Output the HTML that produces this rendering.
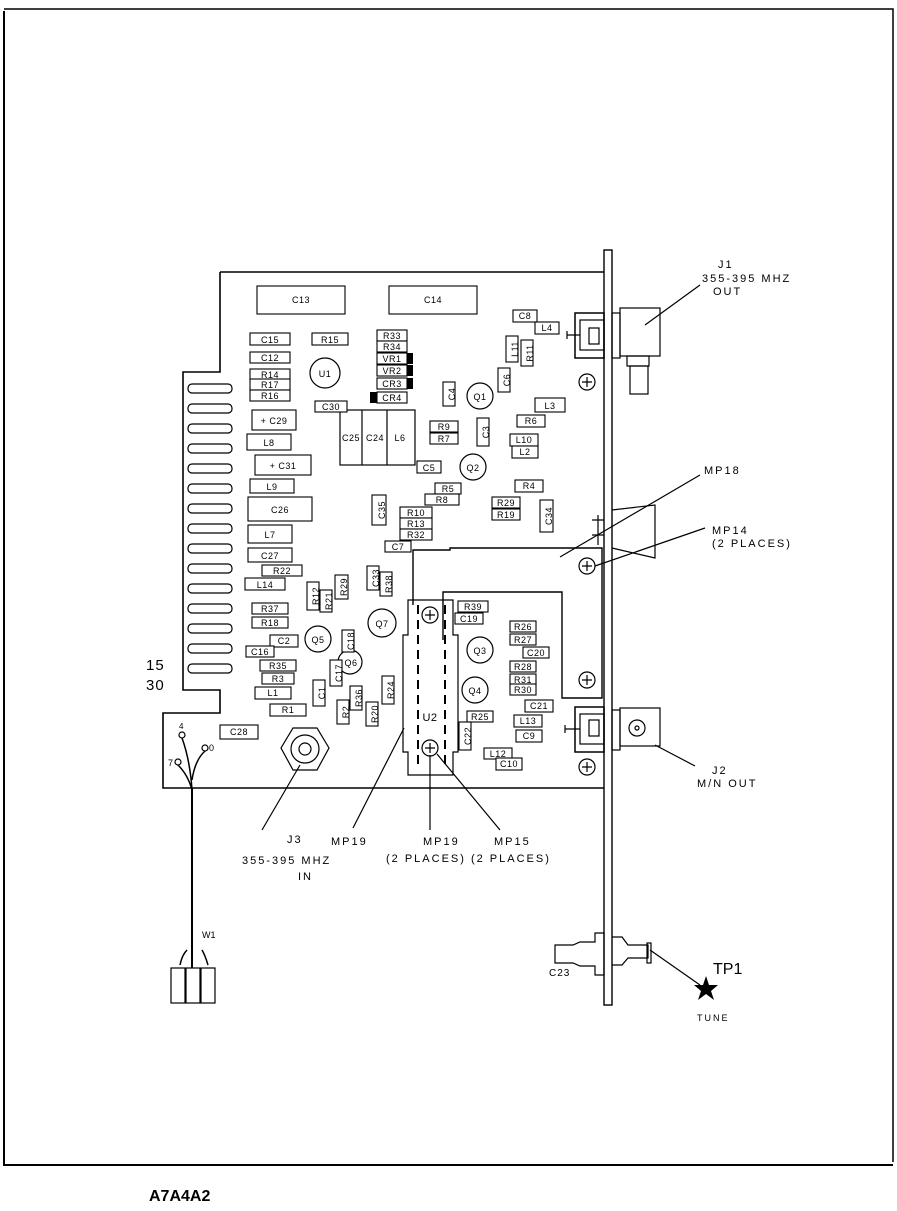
<!DOCTYPE html>
<html><head><meta charset="utf-8"><style>
html,body{margin:0;padding:0;background:#fff}
svg{display:block}
text{font-family:"Liberation Sans",sans-serif;fill:#000}
.l{font-size:9px;letter-spacing:0.5px}
.b{font-size:11px;letter-spacing:2px}
</style></head><body>
<svg width="897" height="1211" viewBox="0 0 897 1211" xmlns="http://www.w3.org/2000/svg">
<g fill="none" stroke="#000" stroke-width="1.2">
<path d="M4 9 H893 V1162" stroke-width="1.5"/>
<path d="M4 11 V1165 H893" stroke-width="2"/>
<path d="M220 272 H605 M220 272 V372 H183 V690 H220 V713 H163 V788 H605" stroke-width="1.6"/>
<g stroke-width="1.2">
<rect x="188" y="384" width="44" height="9" rx="4"/><rect x="188" y="404" width="44" height="9" rx="4"/>
<rect x="188" y="424" width="44" height="9" rx="4"/><rect x="188" y="444" width="44" height="9" rx="4"/>
<rect x="188" y="464" width="44" height="9" rx="4"/><rect x="188" y="484" width="44" height="9" rx="4"/>
<rect x="188" y="504" width="44" height="9" rx="4"/><rect x="188" y="524" width="44" height="9" rx="4"/>
<rect x="188" y="544" width="44" height="9" rx="4"/><rect x="188" y="564" width="44" height="9" rx="4"/>
<rect x="188" y="584" width="44" height="9" rx="4"/><rect x="188" y="604" width="44" height="9" rx="4"/>
<rect x="188" y="624" width="44" height="9" rx="4"/><rect x="188" y="644" width="44" height="9" rx="4"/>
<rect x="188" y="664" width="44" height="9" rx="4"/>
</g>
<rect x="604" y="250" width="8" height="755" fill="#fff" stroke-width="1.4"/>
<path d="M413 605 V550 H450 V548 H602 V698 H562 V592 H443 V640" stroke-width="1.4"/>
<path d="M408 600 H453 V635 H458 V752 H453 V775 H408 V752 H403 V635 H408 Z"/>
<path d="M418 605 V765 M445 605 V765" stroke-dasharray="9,6" stroke-width="2"/>
<g stroke-width="1.2">
<circle cx="430" cy="615" r="8"/><path d="M425 615h10M430 610v10"/>
<circle cx="430" cy="748" r="8"/><path d="M425 748h10M430 743v10"/>
<circle cx="587" cy="382" r="8"/><path d="M582 382h10M587 377v10"/>
<circle cx="587" cy="566" r="8"/><path d="M582 566h10M587 561v10"/>
<circle cx="587" cy="680" r="8"/><path d="M582 680h10M587 675v10"/>
<circle cx="587" cy="767" r="8"/><path d="M582 767h10M587 762v10"/>
</g>
<rect x="575" y="313" width="29" height="45" stroke-width="1.5"/>
<rect x="580" y="320" width="24" height="30"/><rect x="589" y="328" width="10" height="16"/>
<path d="M567 335h13M567 331v8"/>
<rect x="612" y="313" width="8" height="45"/>
<rect x="620" y="308" width="40" height="48"/>
<rect x="627" y="356" width="22" height="10"/><rect x="630" y="366" width="18" height="28"/>
<rect x="575" y="707" width="29" height="45" stroke-width="1.5"/>
<rect x="580" y="714" width="24" height="30"/><rect x="589" y="720" width="10" height="16"/>
<path d="M565 729h15M565 725v8"/>
<rect x="612" y="710" width="8" height="40"/>
<rect x="620" y="708" width="40" height="38"/><circle cx="637" cy="728" r="8"/><circle cx="637" cy="728" r="2"/>
<path d="M612 510 L655 505 V558 L612 548 M592 520 H604 M592 535 H604 M598 515 V545"/>
<path d="M555 945 H573 L580 942 H595 V933 H604 V975 H595 V966 H580 L573 963 H555 Z"/>
<path d="M612 937 H622 L628 945 H648 V958 H628 L622 965 H612"/>
<rect x="647" y="943" width="4" height="20"/>
<polygon points="293,728 317,728 329,748 317,770 293,770 281,748"/>
<circle cx="305" cy="749" r="14"/><circle cx="305" cy="749" r="6"/>
<circle cx="182" cy="735" r="3"/><circle cx="205" cy="748" r="3"/><circle cx="178" cy="762" r="3"/>
<path d="M182 738 Q190 760 192 790 M205 751 Q195 760 192 780 M178 765 Q188 775 192 790" stroke-width="1.5"/>
<path d="M192 788 V968" stroke-width="2"/>
<path d="M180 965 Q182 955 187 950 M208 965 Q205 955 202 950" stroke-width="1.5"/>
<rect x="171" y="968" width="14" height="35"/><rect x="186" y="968" width="14" height="35"/><rect x="201" y="968" width="14" height="35"/>
<path d="M700 285 L645 325 M700 475 L560 557 M705 528 L595 566 M695 766 L655 745 M262 830 L300 765 M353 828 L404 728 M430 830 V755 M500 830 L437 754 M700 985 L650 950"/>
<circle cx="325" cy="373" r="15"/><circle cx="480" cy="396" r="13"/><circle cx="473" cy="467" r="13"/>
<circle cx="382" cy="623" r="14"/><circle cx="318" cy="639" r="13"/><circle cx="350" cy="662" r="12"/>
<circle cx="480" cy="650" r="13"/><circle cx="475" cy="690" r="13"/>
<rect x="340" y="410" width="75" height="55"/><path d="M362 410v55M387 410v55"/>
</g>
<rect x="407" y="353" width="6" height="11"/><rect x="407" y="365" width="6" height="11"/>
<rect x="407" y="378" width="6" height="11"/><rect x="370" y="392" width="7" height="11"/>
<g fill="#fff" stroke="#000" stroke-width="1.1">
<rect x="257" y="286" width="88" height="28"/><rect x="389" y="286" width="88" height="28"/>
<rect x="250" y="333" width="40" height="12"/><rect x="312" y="333" width="36" height="12"/>
<rect x="377" y="330" width="30" height="11"/><rect x="377" y="341" width="30" height="11"/>
<rect x="377" y="353" width="30" height="11"/><rect x="377" y="365" width="30" height="11"/>
<rect x="377" y="378" width="30" height="11"/><rect x="377" y="392" width="30" height="11"/>
<rect x="250" y="352" width="40" height="11"/><rect x="250" y="369" width="40" height="11"/>
<rect x="250" y="379" width="40" height="11"/><rect x="250" y="390" width="40" height="11"/>
<rect x="315" y="401" width="32" height="11"/><rect x="252" y="410" width="44" height="20"/>
<rect x="247" y="434" width="44" height="16"/><rect x="255" y="455" width="56" height="20"/>
<rect x="250" y="479" width="44" height="14"/><rect x="248" y="497" width="64" height="24"/>
<rect x="248" y="525" width="44" height="18"/><rect x="248" y="548" width="44" height="14"/>
<rect x="262" y="565" width="40" height="11"/><rect x="245" y="578" width="40" height="12"/>
<rect x="417" y="461" width="24" height="12"/><rect x="372" y="495" width="14" height="30"/>
<rect x="435" y="483" width="26" height="11"/><rect x="425" y="494" width="34" height="11"/>
<rect x="400" y="507" width="32" height="11"/><rect x="400" y="518" width="32" height="11"/>
<rect x="400" y="529" width="32" height="11"/><rect x="385" y="541" width="26" height="11"/>
<rect x="430" y="421" width="28" height="11"/><rect x="430" y="433" width="28" height="11"/>
<rect x="443" y="382" width="12" height="24"/><rect x="477" y="418" width="12" height="28"/>
<rect x="498" y="368" width="12" height="24"/><rect x="506" y="336" width="12" height="26"/>
<rect x="521" y="340" width="12" height="26"/><rect x="513" y="310" width="24" height="12"/>
<rect x="535" y="322" width="24" height="12"/><rect x="535" y="398" width="30" height="14"/>
<rect x="517" y="415" width="28" height="12"/><rect x="510" y="434" width="28" height="12"/>
<rect x="512" y="446" width="26" height="12"/><rect x="515" y="480" width="28" height="12"/>
<rect x="492" y="497" width="28" height="11"/><rect x="492" y="509" width="28" height="11"/>
<rect x="540" y="500" width="13" height="32"/>
<rect x="458" y="601" width="30" height="11"/><rect x="455" y="613" width="28" height="11"/>
<rect x="510" y="621" width="26" height="11"/><rect x="510" y="634" width="26" height="11"/>
<rect x="523" y="647" width="26" height="11"/><rect x="510" y="661" width="26" height="11"/>
<rect x="510" y="674" width="26" height="11"/><rect x="510" y="684" width="26" height="11"/>
<rect x="467" y="711" width="26" height="11"/><rect x="525" y="700" width="28" height="12"/>
<rect x="514" y="715" width="28" height="12"/><rect x="516" y="730" width="26" height="12"/>
<rect x="459" y="722" width="12" height="28"/><rect x="484" y="748" width="28" height="11"/>
<rect x="496" y="758" width="26" height="12"/>
<rect x="307" y="582" width="12" height="28"/><rect x="320" y="590" width="12" height="22"/>
<rect x="335" y="575" width="13" height="24"/><rect x="367" y="566" width="12" height="24"/>
<rect x="380" y="572" width="12" height="24"/><rect x="342" y="630" width="12" height="22"/>
<rect x="330" y="660" width="12" height="26"/>
<rect x="252" y="603" width="36" height="11"/><rect x="252" y="617" width="36" height="11"/>
<rect x="270" y="635" width="28" height="12"/><rect x="246" y="646" width="28" height="11"/>
<rect x="260" y="660" width="36" height="11"/><rect x="262" y="673" width="32" height="11"/>
<rect x="255" y="687" width="36" height="12"/><rect x="270" y="704" width="36" height="12"/>
<rect x="313" y="680" width="12" height="26"/><rect x="350" y="686" width="12" height="24"/>
<rect x="337" y="700" width="12" height="24"/><rect x="382" y="676" width="12" height="28"/>
<rect x="366" y="702" width="12" height="24"/><rect x="220" y="725" width="38" height="14"/>
</g>
<g class="l" text-anchor="middle">
<text x="301" y="303">C13</text><text x="433" y="303">C14</text>
<text x="270" y="343">C15</text><text x="330" y="343">R15</text>
<text x="392" y="339">R33</text><text x="392" y="350">R34</text><text x="392" y="362">VR1</text>
<text x="392" y="374">VR2</text><text x="392" y="387">CR3</text><text x="392" y="401">CR4</text>
<text x="270" y="361">C12</text><text x="270" y="378">R14</text><text x="270" y="388">R17</text><text x="270" y="399">R16</text>
<text x="325" y="377">U1</text><text x="331" y="410">C30</text><text x="274" y="424">+ C29</text>
<text x="269" y="446">L8</text><text x="283" y="469">+ C31</text><text x="272" y="490">L9</text>
<text x="280" y="513">C26</text><text x="270" y="538">L7</text><text x="270" y="559">C27</text>
<text x="282" y="574">R22</text><text x="265" y="588">L14</text>
<text x="351" y="441">C25</text><text x="375" y="441">C24</text><text x="400" y="441">L6</text>
<text x="429" y="471">C5</text><text x="448" y="492">R5</text><text x="442" y="503">R8</text>
<text x="416" y="516">R10</text><text x="416" y="527">R13</text><text x="416" y="538">R32</text><text x="398" y="550">C7</text>
<text x="444" y="430">R9</text><text x="444" y="442">R7</text><text x="480" y="400">Q1</text><text x="473" y="471">Q2</text>
<text x="525" y="319">C8</text><text x="547" y="331">L4</text><text x="550" y="409">L3</text>
<text x="531" y="424">R6</text><text x="524" y="443">L10</text><text x="525" y="455">L2</text>
<text x="529" y="489">R4</text><text x="506" y="506">R29</text><text x="506" y="518">R19</text>
<text x="473" y="610">R39</text><text x="469" y="622">C19</text>
<text x="523" y="630">R26</text><text x="523" y="643">R27</text><text x="536" y="656">C20</text>
<text x="523" y="670">R28</text><text x="523" y="683">R31</text><text x="523" y="693">R30</text>
<text x="480" y="654">Q3</text><text x="475" y="694">Q4</text><text x="480" y="720">R25</text>
<text x="539" y="709">C21</text><text x="528" y="724">L13</text><text x="529" y="739">C9</text>
<text x="498" y="757">L12</text><text x="509" y="767">C10</text><text x="430" y="721" font-size="11">U2</text>
<text x="382" y="627">Q7</text><text x="318" y="643">Q5</text><text x="351" y="666">Q6</text>
<text x="270" y="612">R37</text><text x="270" y="626">R18</text><text x="284" y="644">C2</text>
<text x="260" y="655">C16</text><text x="278" y="669">R35</text><text x="278" y="682">R3</text>
<text x="273" y="696">L1</text><text x="288" y="713">R1</text><text x="239" y="735">C28</text>
</g>
<g class="l" text-anchor="middle">
<text transform="translate(382,510) rotate(-90)" y="3">C35</text>
<text transform="translate(452,394) rotate(-90)" y="3">C4</text>
<text transform="translate(486,432) rotate(-90)" y="3">C3</text>
<text transform="translate(507,380) rotate(-90)" y="3">C6</text>
<text transform="translate(515,349) rotate(-90)" y="3">L11</text>
<text transform="translate(530,353) rotate(-90)" y="3">R11</text>
<text transform="translate(549,516) rotate(-90)" y="3">C34</text>
<text transform="translate(468,736) rotate(-90)" y="3">C22</text>
<text transform="translate(316,596) rotate(-90)" y="3">R12</text>
<text transform="translate(329,601) rotate(-90)" y="3">R21</text>
<text transform="translate(344,587) rotate(-90)" y="3">R29</text>
<text transform="translate(376,578) rotate(-90)" y="3">C33</text>
<text transform="translate(389,584) rotate(-90)" y="3">R38</text>
<text transform="translate(351,641) rotate(-90)" y="3">C18</text>
<text transform="translate(339,673) rotate(-90)" y="3">C17</text>
<text transform="translate(322,693) rotate(-90)" y="3">C1</text>
<text transform="translate(359,698) rotate(-90)" y="3">R36</text>
<text transform="translate(346,712) rotate(-90)" y="3">R2</text>
<text transform="translate(391,690) rotate(-90)" y="3">R24</text>
<text transform="translate(375,714) rotate(-90)" y="3">R20</text>
</g>
<g class="b">
<text x="718" y="268">J1</text><text x="702" y="282">355-395 MHZ</text><text x="713" y="295">OUT</text>
<text x="704" y="474">MP18</text><text x="712" y="534">MP14</text><text x="712" y="547">(2 PLACES)</text>
<text x="712" y="774">J2</text><text x="697" y="787">M/N OUT</text>
<text x="287" y="843">J3</text><text x="242" y="864">355-395 MHZ</text><text x="298" y="880">IN</text>
<text x="331" y="845">MP19</text><text x="423" y="845">MP19</text><text x="494" y="845">MP15</text>
<text x="386" y="862">(2 PLACES) (2 PLACES)</text>
<text x="549" y="976" font-size="10" letter-spacing="1">C23</text><text x="697" y="1021" font-size="9">TUNE</text>
</g>
<text x="146" y="670" font-size="15" letter-spacing="1">15</text>
<text x="146" y="690" font-size="15" letter-spacing="1">30</text>
<text x="179" y="729" font-size="8">4</text><text x="209" y="751" font-size="9">0</text><text x="168" y="766" font-size="9">7</text>
<text x="202" y="938" font-size="9">W1</text>
<text x="713" y="974" font-size="16">TP1</text>
<polygon points="706,976 709,985 718,985 711,991 714,1000 706,994 698,1000 701,991 694,985 703,985"/>
<text x="149" y="1201" font-size="16" font-weight="bold">A7A4A2</text>
</svg>
</body></html>
